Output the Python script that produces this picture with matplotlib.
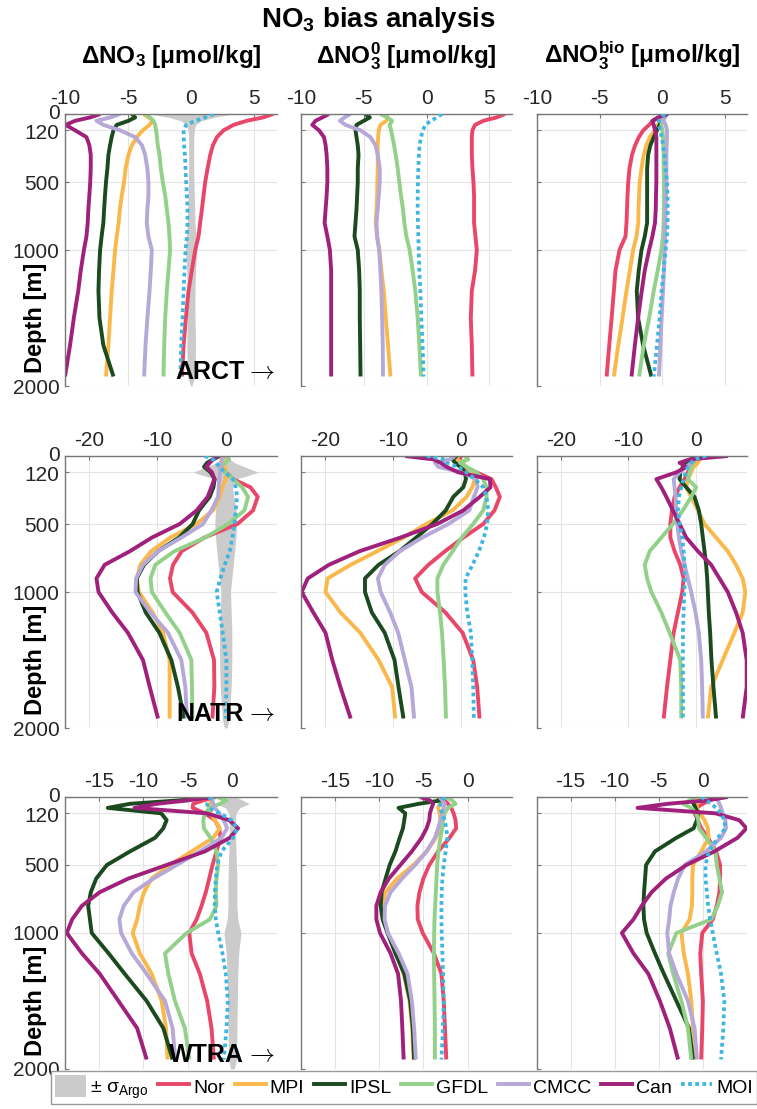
import matplotlib
matplotlib.use("Agg")
import matplotlib.pyplot as plt
import matplotlib.patches as mpatches
from matplotlib.lines import Line2D
from matplotlib.transforms import ScaledTranslation

plt.rcParams["font.family"] = ["Liberation Sans", "DejaVu Sans"]
plt.rcParams["mathtext.fontset"] = "custom"
plt.rcParams["mathtext.rm"] = "Liberation Sans"
plt.rcParams["mathtext.bf"] = "Liberation Sans:bold"
plt.rcParams["mathtext.it"] = "Liberation Sans:italic"
plt.rcParams["axes.unicode_minus"] = False

# depth levels [m] shared by all profiles
depth = [0, 25, 50, 80, 120, 170, 230, 300, 400, 500, 600, 700, 800, 900,
         1000, 1150, 1300, 1500, 1700, 1930]
argo_depth = depth + [2000]

models = ["Nor", "MPI", "IPSL", "GFDL", "CMCC", "Can", "MOI"]
colors = {"Nor": "#e8476a", "MPI": "#fbb84a", "IPSL": "#1a4a1e", "GFDL": "#93d18a",
          "CMCC": "#b6a8d8", "Can": "#a0217b", "MOI": "#3db6e0"}
regions = ["ARCT", "NATR", "WTRA"]

# ---- ARCT ----
arct_tot = {
    "Nor": [6.5, 5.7, 4.4, 3.36, 2.57, 2.04, 1.72, 1.51, 1.3, 1.11, 0.98, 0.85, 0.71, 0.58, 0.32, 0.05, -0.21, -0.42, -0.6, -0.74],
    "MPI": [-3.78, -3.39, -3.04, -3.3, -3.84, -4.31, -4.7, -4.97, -5.2, -5.32, -5.5, -5.65, -5.75, -5.9, -6.03, -6.16, -6.3, -6.43, -6.56, -6.75],
    "IPSL": [-4.7, -4.44, -4.97, -5.9, -6.16, -6.3, -6.43, -6.56, -6.64, -6.75, -6.83, -6.9, -6.96, -7.1, -7.22, -7.3, -7.35, -7.27, -6.96, -6.16],
    "GFDL": [-3.65, -3.25, -2.99, -2.86, -2.78, -2.72, -2.65, -2.51, -2.41, -2.25, -2.06, -1.93, -1.8, -1.72, -1.67, -1.8, -1.93, -2.06, -2.14, -2.2],
    "CMCC": [-5.63, -6.4, -7.5, -6.96, -5.63, -4.44, -3.9, -3.65, -3.47, -3.39, -3.39, -3.47, -3.52, -3.39, -3.12, -3.2, -3.3, -3.47, -3.62, -3.73],
    "Can": [-7.2, -8.0, -9.2, -9.95, -9.2, -8.3, -8.07, -7.96, -7.96, -8.0, -8.07, -8.15, -8.2, -8.3, -8.5, -8.75, -8.95, -9.3, -9.6, -10.0],
    "MOI": [1.77, 1.11, 0.32, -0.4, -0.6, -0.6, -0.56, -0.5, -0.45, -0.4, -0.34, -0.29, -0.29, -0.34, -0.45, -0.53, -0.6, -0.69, -0.79, -0.87],
}
arct_pre = {
    "Nor": [6.24, 5.58, 4.52, 3.86, 3.65, 3.6, 3.6, 3.6, 3.65, 3.73, 3.78, 3.78, 3.78, 3.89, 4.0, 3.86, 3.6, 3.52, 3.6, 3.65],
    "MPI": [-3.28, -3.1, -3.2, -3.68, -3.81, -3.86, -3.89, -3.89, -3.89, -3.92, -3.94, -3.99, -4.05, -3.94, -3.76, -3.6, -3.41, -3.25, -3.07, -2.88],
    "IPSL": [-4.87, -4.52, -5.0, -5.58, -5.66, -5.58, -5.48, -5.42, -5.48, -5.48, -5.53, -5.58, -5.66, -5.74, -5.48, -5.37, -5.32, -5.32, -5.29, -5.26],
    "GFDL": [-3.68, -3.15, -2.75, -2.94, -2.83, -2.72, -2.59, -2.46, -2.3, -2.17, -2.04, -1.88, -1.77, -1.61, -1.35, -1.11, -0.9, -0.71, -0.58, -0.45],
    "CMCC": [-6.06, -6.53, -6.9, -6.46, -5.26, -4.47, -4.07, -3.89, -3.73, -3.73, -3.81, -3.89, -3.99, -3.94, -3.78, -3.68, -3.6, -3.54, -3.49, -3.47],
    "Can": [-7.78, -8.3, -8.84, -9.1, -8.57, -8.17, -8.04, -7.96, -7.9, -7.9, -7.96, -8.04, -8.12, -7.9, -7.7, -7.6, -7.6, -7.6, -7.6, -7.6],
    "MOI": [1.22, 0.82, 0.34, -0.11, -0.29, -0.45, -0.56, -0.61, -0.66, -0.69, -0.71, -0.71, -0.69, -0.66, -0.63, -0.58, -0.5, -0.42, -0.32, -0.24],
}
arct_bio = {
    "Nor": [0.35, -0.19, -0.72, -1.03, -1.5, -1.85, -2.15, -2.4, -2.6, -2.7, -2.76, -2.8, -2.84, -2.92, -3.4, -3.72, -3.85, -4.03, -4.22, -4.43],
    "MPI": [0.35, 0.13, -0.13, -0.32, -0.58, -0.98, -1.25, -1.46, -1.64, -1.78, -1.83, -1.88, -1.9, -2.04, -2.31, -2.57, -2.84, -3.16, -3.5, -3.85],
    "IPSL": [0.35, 0.21, 0.03, -0.19, -0.4, -0.66, -0.93, -1.11, -1.19, -1.19, -1.19, -1.19, -1.19, -1.38, -1.64, -1.86, -2.02, -1.91, -1.51, -0.85],
    "GFDL": [0.08, 0.13, 0.03, -0.05, 0.03, 0.08, 0.11, 0.13, 0.13, 0.16, 0.16, 0.16, 0.13, 0.08, -0.05, -0.34, -0.66, -1.03, -1.46, -1.83],
    "CMCC": [0.35, 0.21, 0.13, 0.29, 0.4, 0.4, 0.37, 0.35, 0.35, 0.35, 0.32, 0.29, 0.27, 0.24, 0.21, 0.16, 0.08, -0.03, -0.13, -0.24],
    "Can": [0.48, -0.32, -0.77, -0.66, -0.56, -0.45, -0.45, -0.45, -0.45, -0.45, -0.48, -0.5, -0.56, -0.77, -1.03, -1.38, -1.62, -1.91, -2.17, -2.44],
    "MOI": [0.21, -0.05, -0.24, -0.24, -0.13, -0.03, 0.08, 0.19, 0.29, 0.4, 0.45, 0.45, 0.45, 0.4, 0.29, 0.13, -0.03, -0.19, -0.4, -0.66],
}
arct_sigma = [3.2, 1.8, 0.8, 0.35, 0.25, 0.2, 0.2, 0.2, 0.2, 0.22, 0.25, 0.28, 0.3, 0.38, 0.45, 0.35, 0.3, 0.3, 0.35, 0.3, 0.05]

# ---- NATR ----
natr_tot = {
    "Nor": [-0.39, -0.49, -0.59, -0.49, 0.0, 1.07, 3.61, 4.68, 4.0, 1.71, -3.12, -6.44, -7.7, -8.15, -7.76, -4.88, -2.83, -1.71, -1.66, -1.95],
    "MPI": [-0.63, -0.39, -0.24, -0.1, 0.05, 0.0, -0.49, -0.88, -1.85, -4.3, -8.1, -10.9, -12.5, -13.0, -12.7, -10.7, -9.17, -8.2, -8.2, -8.2],
    "IPSL": [-0.88, -1.85, -2.73, -3.17, -2.2, -1.61, -1.8, -2.34, -3.9, -4.83, -6.83, -9.9, -11.95, -13.0, -12.9, -11.7, -9.7, -7.95, -6.98, -6.1],
    "GFDL": [0.2, 0.49, 0.0, -0.88, -0.1, 1.07, 2.39, 3.27, 2.73, 0.34, -3.02, -7.5, -10.3, -11.0, -10.8, -8.83, -6.73, -5.02, -4.93, -4.88],
    "CMCC": [-0.49, -0.59, -0.68, -0.78, -0.83, -0.93, -1.02, -1.12, -2.1, -3.32, -6.49, -9.9, -12.1, -13.1, -13.2, -11.0, -8.44, -6.49, -5.9, -5.66],
    "Can": [-1.12, -1.85, -2.34, -2.83, -2.0, -1.66, -2.1, -2.63, -4.24, -6.73, -10.8, -14.0, -17.7, -18.9, -18.6, -16.6, -14.3, -12.1, -11.1, -9.9],
    "MOI": [-3.07, -1.85, -1.46, -0.88, -0.1, 1.07, 1.46, 1.66, 1.46, 1.27, 0.98, 0.59, -0.15, -0.78, -1.32, -0.88, -0.44, 0.1, 0.1, 0.0],
}
natr_pre = {
    "Nor": [0.1, -0.39, -0.63, 0.34, 2.29, 4.49, 5.12, 5.71, 4.93, 3.27, 0.34, -2.34, -4.78, -6.73, -5.76, -2.29, 0.24, 1.8, 2.39, 2.73],
    "MPI": [-0.39, -0.63, 0.1, 0.83, 1.56, 2.05, 1.66, 0.83, -1.22, -5.12, -8.44, -12.3, -16.2, -19.6, -19.9, -17.7, -14.8, -12.1, -10.1, -9.66],
    "IPSL": [-0.63, -1.22, -0.88, -0.05, 0.59, 0.73, 0.34, -1.12, -2.24, -4.2, -6.59, -9.02, -12.1, -14.1, -14.1, -13.1, -11.2, -9.76, -9.17, -8.44],
    "GFDL": [0.59, 1.07, -0.15, 0.83, 2.29, 3.27, 3.76, 3.76, 3.27, 1.8, 0.1, -1.22, -2.59, -3.46, -3.46, -3.07, -2.78, -2.54, -2.34, -2.2],
    "CMCC": [-0.88, -1.61, -3.8, -3.32, 0.1, 2.29, 2.44, 1.9, 1.22, -1.85, -5.7, -8.98, -11.2, -12.2, -11.8, -10.4, -9.22, -8.24, -7.27, -6.88],
    "Can": [-8.2, -4.05, -2.98, -2.1, -0.39, 4.24, 4.34, 2.78, 0.34, -3.5, -8.9, -14.9, -19.4, -22.5, -23.4, -21.7, -19.9, -18.9, -17.7, -16.2],
    "MOI": [-5.02, -2.34, -2.1, -0.39, 0.83, 2.05, 3.27, 3.76, 4.0, 3.85, 3.37, 2.63, 1.71, 0.68, 0.63, 0.93, 1.46, 1.66, 1.8, 1.9],
}
natr_bio = {
    "Nor": [0.25, 0.0, -0.25, -0.74, -1.23, -1.72, -2.45, -3.19, -3.58, -3.82, -3.82, -3.19, -2.35, -1.86, -2.06, -2.7, -3.33, -3.82, -4.31, -4.8],
    "MPI": [0.25, 0.49, 0.25, -0.39, -0.74, -1.23, -1.47, -0.74, 0.25, 1.23, 2.94, 4.66, 5.88, 6.86, 7.25, 6.86, 5.64, 3.92, 2.21, 1.72],
    "IPSL": [-0.25, -0.74, -1.23, -1.96, -2.35, -2.45, -1.47, -0.25, 0.39, 0.74, 0.98, 1.23, 1.47, 1.62, 1.72, 1.86, 2.06, 2.25, 2.55, 2.94],
    "GFDL": [0.0, -0.25, -0.49, -0.74, -0.98, -1.23, 0.0, -0.74, -1.96, -3.43, -5.15, -6.86, -7.6, -7.25, -6.62, -5.15, -3.92, -2.35, -2.21, -2.21],
    "CMCC": [0.0, -0.25, -0.74, -1.47, -2.45, -3.33, -3.19, -3.04, -2.94, -2.79, -2.55, -2.21, -1.72, -1.23, -0.74, -0.1, 0.39, 0.74, 0.88, 0.98],
    "Can": [4.66, -0.98, -2.45, -1.47, -2.94, -5.88, -5.15, -4.41, -3.43, -2.45, -1.47, 0.25, 2.21, 3.43, 4.66, 5.88, 6.86, 7.45, 7.45, 6.86],
    "MOI": [1.47, -0.25, -0.74, -1.23, -1.57, -1.86, -2.21, -2.55, -2.7, -2.45, -2.06, -1.86, -1.72, -1.67, -1.76, -1.86, -1.96, -1.96, -1.96, -1.96],
}
natr_sigma = [0.4, 0.7, 1.3, 2.8, 4.8, 1.5, 1.0, 1.2, 1.5, 1.6, 1.5, 1.3, 1.1, 0.9, 0.7, 0.8, 0.9, 0.9, 0.8, 0.5, 0.2]

# ---- WTRA ----
wtra_tot = {
    "Nor": [-1.87, -3.28, -4.4, -4.48, -3.1, -1.98, -1.49, -1.34, -1.79, -2.24, -2.61, -2.99, -3.47, -4.03, -4.85, -4.59, -3.66, -2.84, -2.35, -2.09],
    "MPI": [-2.16, -2.35, -2.54, -2.61, -2.46, -1.98, -1.42, -2.16, -4.59, -7.01, -9.07, -9.93, -10.4, -10.7, -11.2, -10.4, -9.07, -7.95, -7.46, -7.28],
    "IPSL": [-2.16, -6.0, -11.5, -14.0, -8.0, -7.39, -7.76, -8.69, -11.5, -14.1, -15.3, -15.9, -16.2, -16.0, -15.8, -13.9, -12.1, -9.63, -7.76, -6.72],
    "GFDL": [-1.79, -0.67, -1.42, -2.54, -3.1, -3.28, -3.21, -2.46, -1.79, -1.6, -1.79, -1.87, -1.79, -2.54, -5.15, -7.57, -7.2, -6.46, -5.34, -4.85],
    "CMCC": [-2.16, -2.24, -2.16, -1.98, -1.49, -0.97, -0.6, -1.23, -3.66, -6.27, -8.88, -11.1, -12.2, -12.7, -12.5, -11.3, -9.63, -7.57, -6.72, -6.42],
    "Can": [-2.54, -5.0, -8.5, -11.0, -2.9, -0.37, 0.63, -0.3, -3.1, -7.39, -11.7, -14.9, -16.9, -18.0, -18.6, -16.9, -14.9, -12.8, -10.7, -9.63],
    "MOI": [-2.35, -2.61, -2.84, -2.72, -1.42, -0.11, 0.52, 0.07, -1.23, -1.72, -1.87, -1.98, -1.98, -1.87, -1.6, -1.12, -0.75, -0.52, -0.67, -0.97],
}
wtra_pre = {
    "Nor": [-2.96, -2.59, -2.22, -1.85, -1.59, -1.37, -1.3, -2.04, -3.33, -4.33, -5.0, -5.44, -5.67, -5.63, -5.07, -3.81, -2.96, -2.7, -2.56, -2.41],
    "MPI": [-3.33, -2.78, -3.15, -3.33, -3.15, -3.07, -3.15, -3.59, -4.63, -6.11, -7.96, -9.26, -9.63, -9.44, -9.0, -8.04, -7.22, -6.56, -6.26, -6.11],
    "IPSL": [-3.33, -3.0, -5.5, -7.8, -7.04, -7.15, -7.3, -7.67, -8.15, -8.8, -9.26, -9.7, -9.81, -9.59, -9.04, -8.15, -7.15, -6.48, -6.19, -6.04],
    "GFDL": [-2.59, -1.74, -1.37, -2.22, -2.59, -2.78, -2.89, -3.07, -3.3, -3.44, -3.52, -3.59, -3.67, -3.74, -3.78, -3.81, -3.78, -3.74, -3.7, -3.7],
    "CMCC": [-3.22, -2.85, -2.59, -2.7, -2.85, -3.07, -3.33, -3.7, -4.63, -5.93, -7.41, -8.7, -9.33, -9.37, -9.0, -7.78, -6.78, -6.3, -6.04, -5.85],
    "Can": [-5.37, -4.26, -3.89, -4.07, -4.26, -4.33, -4.63, -5.19, -6.3, -7.59, -8.89, -9.81, -10.3, -10.3, -9.89, -8.7, -7.85, -7.52, -7.37, -7.22],
    "MOI": [-2.59, -2.85, -3.07, -3.15, -2.85, -2.59, -2.41, -2.3, -2.48, -2.7, -2.85, -2.93, -2.96, -2.96, -2.93, -2.85, -2.78, -2.7, -2.78, -2.96],
}
wtra_bio = {
    "Nor": [1.5, 0.75, 0.0, -0.75, -0.94, -0.56, -0.19, 0.56, 1.5, 1.95, 1.95, 1.87, 1.57, 1.12, -0.07, -0.3, -0.19, 0.0, -0.07, -0.19],
    "MPI": [-0.37, -0.56, -0.75, -0.67, -0.37, 0.19, 0.56, 0.67, -0.19, -1.12, -1.2, -1.2, -1.24, -1.5, -2.43, -2.17, -1.69, -1.31, -1.12, -0.82],
    "IPSL": [-1.31, -1.2, -1.05, -0.82, -0.56, -0.67, -1.05, -3.0, -5.43, -6.44, -6.55, -6.67, -6.74, -6.67, -6.37, -5.43, -4.42, -3.0, -1.57, -1.12],
    "GFDL": [-0.75, -1.5, -2.25, -1.31, -0.75, -0.52, -0.45, 0.37, 1.42, 1.57, 1.87, 2.17, 1.69, 0.94, -3.0, -3.93, -3.37, -2.43, -1.69, -1.31],
    "CMCC": [1.5, 1.69, 1.87, 2.06, 2.25, 2.55, 2.62, 2.06, 0.37, -2.06, -2.81, -3.3, -3.67, -3.82, -4.04, -3.82, -3.0, -1.69, -0.94, -0.67],
    "Can": [2.81, 0.5, -4.0, -7.4, 1.42, 4.12, 4.94, 3.93, 1.31, -1.87, -4.19, -5.81, -6.93, -7.87, -9.18, -7.87, -6.18, -4.87, -3.75, -2.81],
    "MOI": [-0.19, 0.37, 0.94, 1.5, 2.06, 2.43, 2.55, 1.69, 0.67, 0.3, 0.3, 0.45, 0.6, 0.82, 1.12, 1.57, 2.06, 2.43, 2.32, 2.06],
}
wtra_sigma = [0.4, 1.2, 1.9, 0.8, 0.4, 0.35, 0.35, 0.35, 0.4, 0.45, 0.5, 0.5, 0.5, 0.6, 0.95, 0.7, 0.6, 0.55, 0.5, 0.45, 0.2]

panels = [[arct_tot, arct_pre, arct_bio],
          [natr_tot, natr_pre, natr_bio],
          [wtra_tot, wtra_pre, wtra_bio]]
sigmas = [arct_sigma, natr_sigma, wtra_sigma]
row_xlim = [(-10, 6.8), (-23.5, 7.5), (-18.8, 5.0)]
row_xticks = [[-10, -5, 0, 5], [-20, -10, 0], [-15, -10, -5, 0]]
depth_ticks = [0, 120, 500, 1000, 2000]

col_titles = [r"ΔNO$_\mathbf{3}$ [μmol/kg]",
              r"ΔNO$_\mathbf{3}^\mathbf{0}$ [μmol/kg]",
              r"ΔNO$_\mathbf{3}^\mathbf{bio}$ [μmol/kg]"]

W, H = 757, 1109
fig = plt.figure(figsize=(W / 100, H / 100), dpi=100)

col_left = [65, 301, 537]
col_w = [212, 211, 210]
row_top = [114, 456, 797]
ax_h = 272

for r in range(3):
    for c in range(3):
        ax = fig.add_axes([col_left[c] / W, 1 - (row_top[r] + ax_h) / H,
                           col_w[c] / W, ax_h / H])
        if c == 0:
            sig = sigmas[r]
            ax.fill_betweenx(argo_depth, [-s for s in sig], sig,
                             color="#cbcbcb", lw=0, zorder=1)
        data = panels[r][c]
        for m in models:
            if m == "MOI":
                ax.plot(data[m], depth, color=colors[m], lw=2.7,
                        ls=(0, (1.0, 0.9)), dash_capstyle="butt", zorder=3)
            else:
                ax.plot(data[m], depth, color=colors[m], lw=2.8,
                        solid_capstyle="butt", zorder=2)
        ax.set_ylim(2000, 0)
        ax.set_xlim(*row_xlim[r])
        ax.set_xticks(row_xticks[r])
        ax.set_yticks(depth_ticks)
        ax.xaxis.tick_top()
        ax.tick_params(axis="both", labelsize=15, colors="#262626",
                       direction="in", length=3, pad=4)
        ax.tick_params(axis="both", color="#777777")
        if c > 0:
            ax.set_yticklabels([])
        else:
            # nudge the tightly stacked "0" / "120" labels apart
            labs = ax.get_yticklabels()
            labs[0].set_transform(labs[0].get_transform() +
                                  ScaledTranslation(0, 1.5 / 72, fig.dpi_scale_trans))
            labs[1].set_transform(labs[1].get_transform() +
                                  ScaledTranslation(0, -1.0 / 72, fig.dpi_scale_trans))
            ax.set_ylabel("Depth [m]", fontsize=17, fontweight="bold")
            ax.yaxis.set_label_coords(-0.085, 0.25)
            ax.text(0.845, 0.025, regions[r], transform=ax.transAxes,
                    ha="right", va="baseline", fontsize=18, fontweight="bold",
                    zorder=5)
            ax.text(0.85, 0.03, r"$\rightarrow$", transform=ax.transAxes,
                    ha="left", va="baseline", fontsize=18,
                    math_fontfamily="cm", zorder=5)
        ax.grid(True, color="#e4e4e4", lw=0.8)
        ax.set_axisbelow(True)
        ax.spines["right"].set_visible(False)
        ax.spines["bottom"].set_visible(False)
        for s in ["left", "top"]:
            ax.spines[s].set_color("#777777")
            ax.spines[s].set_linewidth(1.0)

# titles
fig.text(0.5, 1 - 27 / H, r"NO$_\mathbf{3}$ bias analysis", ha="center",
         va="baseline", fontsize=20, fontweight="bold")
for c in range(3):
    xc = (col_left[c] + col_w[c] / 2) / W
    fig.text(xc, 1 - 63 / H, col_titles[c], ha="center", va="baseline",
             fontsize=17.5, fontweight="bold")

# legend
handles = [mpatches.Patch(facecolor="#cbcbcb", edgecolor="none",
                          label=r"± σ$_{\mathrm{Argo}}$")]
for m in models:
    if m == "MOI":
        handles.append(Line2D([], [], color=colors[m], lw=2.7,
                              ls=(0, (1.0, 0.9)), label=m))
    else:
        handles.append(Line2D([], [], color=colors[m], lw=2.8, label=m))
leg = fig.legend(handles=handles, loc="upper left",
                 bbox_to_anchor=(51 / W, 1 - 1071 / H), ncol=8, fontsize=14,
                 frameon=True, fancybox=False, edgecolor="#999999",
                 framealpha=1, handlelength=1.6, handleheight=1.4,
                 handletextpad=0.2, columnspacing=0.5, borderpad=0.2,
                 borderaxespad=0)
leg.get_frame().set_linewidth(1.0)

fig.savefig("out.png", dpi=100)
